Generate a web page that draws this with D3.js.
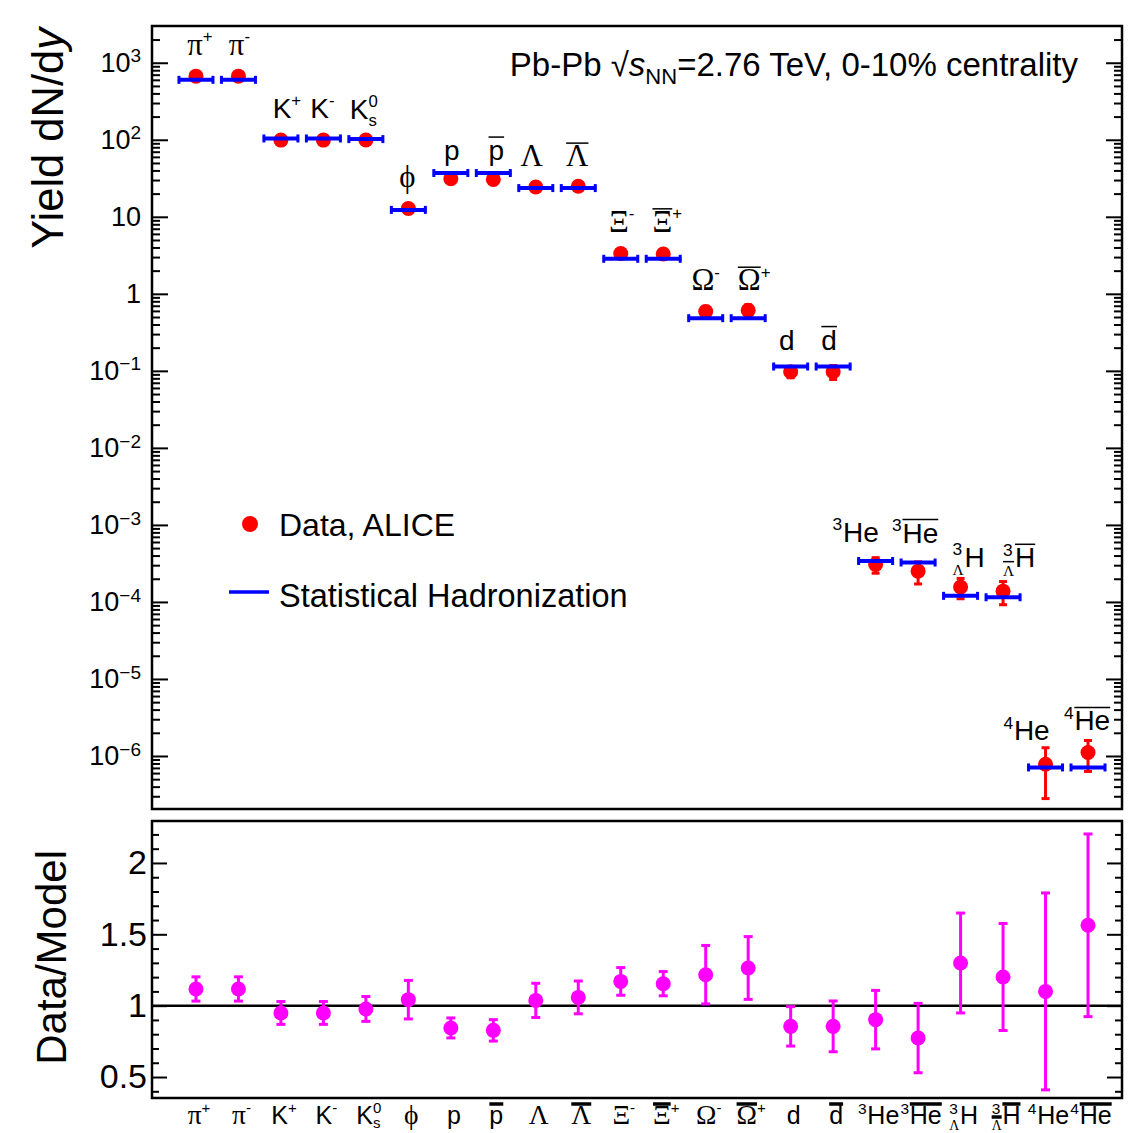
<!DOCTYPE html>
<html>
<head>
<meta charset="utf-8">
<script src="https://cdn.jsdelivr.net/npm/d3@7"></script>
<style>
  body { margin: 0; background: #fff; }
  text { font-family: "Liberation Sans", Arial, Helvetica, sans-serif; fill: #000; }
</style>
</head>
<body>
<div id="chart"></div>
<script>
// ALICE yields in central Pb-Pb at 2.76 TeV vs. statistical hadronization model
// top: dN/dy (log), bottom: data / model ratio

const particles = ["pi+", "pi-", "K+", "K-", "K0s", "phi", "p", "pbar", "Lambda", "Lambdabar",
                   "Xi-", "Xibar+", "Omega-", "Omegabar+", "d", "dbar", "3He", "3Hebar",
                   "3LH", "3LHbar", "4He", "4Hebar"];

const dataYield = [670, 670, 99, 99, 99.5, 12.8, 31.2, 30.6, 24.4, 24.9,
                   3.34, 3.29, 0.588, 0.61, 0.0973, 0.0973, 3.06e-4, 2.51e-4,
                   1.56e-4, 1.38e-4, 7.8e-7, 1.11e-6];
const dataErr = [50, 50, 6, 6, 6, 1.6, 2.6, 2.6, 2.7, 2.6,
                 0.27, 0.24, 0.1, 0.11, 0.016, 0.02, 0.7e-4, 0.8e-4,
                 0.46e-4, 0.46e-4, 5.0e-7, 4.8e-7];
const modelYield = [600, 600, 104, 104, 102, 12.3, 37, 37, 23.6, 23.6,
                    2.85, 2.85, 0.483, 0.483, 0.1138, 0.1138, 3.40e-4, 3.25e-4,
                    1.2e-4, 1.15e-4, 7.1e-7, 7.1e-7];

const ratio = [1.117, 1.117, 0.949, 0.949, 0.977, 1.042, 0.844, 0.827, 1.037, 1.058,
               1.17, 1.154, 1.217, 1.264, 0.855, 0.855, 0.902, 0.773, 1.299, 1.201, 1.10, 1.563];
const ratioErr = [0.085, 0.085, 0.08, 0.08, 0.087, 0.135, 0.07, 0.075, 0.12, 0.115,
                  0.097, 0.085, 0.205, 0.22, 0.138, 0.178, 0.205, 0.243, 0.35, 0.375, 0.69, 0.64];

// label pieces: pre = left superscript, preSub = left subscript, t = symbol, bar = antiparticle
const labels = [
  { t: "π", sup: "+" }, { t: "π", sup: "-" },
  { t: "K", sup: "+" }, { t: "K", sup: "-" }, { t: "K", sup: "0", sub: "s" },
  { t: "\u03D5" }, { t: "p" }, { t: "p", bar: true },
  { t: "Λ" }, { t: "Λ", bar: true },
  { t: "Ξ", sup: "-" }, { t: "Ξ", sup: "+", bar: true },
  { t: "Ω", sup: "-" }, { t: "Ω", sup: "+", bar: true },
  { t: "d" }, { t: "d", bar: true },
  { pre: "3", t: "He" }, { pre: "3", t: "He", bar: true },
  { pre: "3", preSub: "Λ", t: "H" }, { pre: "3", preSub: "Λ", t: "H", bar: true },
  { pre: "4", t: "He" }, { pre: "4", t: "He", bar: true }
];

// pixel nudges of the in-plot labels, relative to the model line
const labelShift = [[4, -25], [1, -25], [6, -20], [-1, -20], [-2, -20], [-1, -23], [1, -13], [3, -13],
                    [-4, -22], [-1, -22], [1, -27], [4, -27], [0, -28], [6, -28], [-4, -17], [-4, -17],
                    [-20, -19], [-3, -20], [8, -29], [16, -30], [-19, -27], [-1, -37]];

const yTicksTop = [1e-6, 1e-5, 1e-4, 1e-3, 1e-2, 1e-1, 1, 10, 100, 1000];
const yTicksBot = [0.5, 1, 1.5, 2];

const width = 1132, height = 1133;
const left = 152, right = 1122;
const top1 = 26, bot1 = 809, top2 = 821, bot2 = 1098;
const sans = "'Liberation Sans', Arial, sans-serif";
const serif = "'Liberation Serif', 'Times New Roman', serif";

const svg = d3.select("#chart").append("svg")
    .attr("width", width).attr("height", height)
    .attr("viewBox", [0, 0, width, height]);

const x = d3.scaleLinear().domain([-1.035, 21.8]).range([left, right]);
const y = d3.scaleLog().domain([2.05e-7, 3000]).range([bot1, top1]);
const yr = d3.scaleLinear().domain([0.353, 2.294]).range([bot2, top2]);

const idx = d3.range(particles.length);

// ---------- axes top panel ----------
const minorTop = [];
for (let e = -7; e <= 3; e++) {
  for (let m = 2; m <= 9; m++) {
    const v = m * Math.pow(10, e);
    if (v > y.domain()[0] && v < y.domain()[1]) minorTop.push(v);
  }
}

function styleAxis(g) {
  g.select(".domain").remove();
  g.selectAll(".tick line").attr("stroke", "#000").attr("stroke-width", 2);
}

const yAxisG = svg.append("g")
    .attr("transform", `translate(${left},0)`)
    .call(d3.axisLeft(y).tickValues(yTicksTop).tickSize(-16).tickPadding(11))
    .style("font-size", "27px")
    .call(styleAxis);

yAxisG.selectAll(".tick text").each(function(d) {
  const e = Math.round(Math.log10(d));
  const t = d3.select(this).text(null).style("font-family", sans);
  if (e === 0) t.text("1");
  else if (e === 1) t.text("10");
  else {
    t.append("tspan").text("10");
    t.append("tspan").attr("dy", "-0.5em").style("font-size", "19px")
      .text(e < 0 ? "\u2212" + (-e) : String(e));
  }
});

svg.append("g").attr("transform", `translate(${left},0)`)
    .call(d3.axisLeft(y).tickValues(minorTop).tickSize(-8).tickFormat(""))
    .call(styleAxis);
svg.append("g").attr("transform", `translate(${right},0)`)
    .call(d3.axisRight(y).tickValues(yTicksTop).tickSize(-16).tickFormat(""))
    .call(styleAxis);
svg.append("g").attr("transform", `translate(${right},0)`)
    .call(d3.axisRight(y).tickValues(minorTop).tickSize(-8).tickFormat(""))
    .call(styleAxis);

// ---------- axes bottom panel ----------
const minorBot = d3.range(4, 23).map(v => v / 10).filter(v => !yTicksBot.includes(v));

svg.append("g")
    .attr("transform", `translate(${left},0)`)
    .call(d3.axisLeft(yr).tickValues(yTicksBot).tickSize(-15).tickPadding(5)
      .tickFormat(d => String(d)))
    .style("font-size", "34px")
    .call(styleAxis)
    .selectAll("text").style("font-family", sans);
svg.append("g").attr("transform", `translate(${left},0)`)
    .call(d3.axisLeft(yr).tickValues(minorBot).tickSize(-7).tickFormat(""))
    .call(styleAxis);
svg.append("g").attr("transform", `translate(${right},0)`)
    .call(d3.axisRight(yr).tickValues(yTicksBot).tickSize(-15).tickFormat(""))
    .call(styleAxis);
svg.append("g").attr("transform", `translate(${right},0)`)
    .call(d3.axisRight(yr).tickValues(minorBot).tickSize(-7).tickFormat(""))
    .call(styleAxis);

// frames
svg.append("rect").attr("x", left).attr("y", top1).attr("width", right - left).attr("height", bot1 - top1)
    .attr("fill", "none").attr("stroke", "#000").attr("stroke-width", 2.5);
svg.append("rect").attr("x", left).attr("y", top2).attr("width", right - left).attr("height", bot2 - top2)
    .attr("fill", "none").attr("stroke", "#000").attr("stroke-width", 2.5);

// unity line
svg.append("line")
    .attr("x1", left).attr("x2", right)
    .attr("y1", yr(1)).attr("y2", yr(1))
    .attr("stroke", "#000").attr("stroke-width", 2.5);

// ---------- top panel marks ----------
const red = "#ff0000", blue = "#0000ff", magenta = "#ff00ff";

const dataG = svg.append("g");
dataG.selectAll("line.err")
  .data(idx).join("line")
    .attr("x1", i => x(i)).attr("x2", i => x(i))
    .attr("y1", i => y(dataYield[i] + dataErr[i]))
    .attr("y2", i => y(Math.max(dataYield[i] - dataErr[i], 2.1e-7)))
    .attr("stroke", red).attr("stroke-width", 3);
[1, -1].forEach(s => {
  dataG.append("g").selectAll("line")
    .data(idx).join("line")
      .attr("x1", i => x(i) - 4).attr("x2", i => x(i) + 4)
      .attr("y1", i => y(dataYield[i] + s * dataErr[i])).attr("y2", i => y(dataYield[i] + s * dataErr[i]))
      .attr("stroke", red).attr("stroke-width", 3);
});
dataG.selectAll("circle")
  .data(idx).join("circle")
    .attr("cx", i => x(i))
    .attr("cy", i => y(dataYield[i]))
    .attr("r", 7.5)
    .attr("fill", red);

const modelG = svg.append("g").attr("stroke", blue);
modelG.selectAll("line.model")
  .data(idx).join("line")
    .attr("x1", i => x(i) - 18).attr("x2", i => x(i) + 18)
    .attr("y1", i => y(modelYield[i])).attr("y2", i => y(modelYield[i]))
    .attr("stroke-width", 4);
[-1, 1].forEach(s => {
  modelG.append("g").selectAll("line")
    .data(idx).join("line")
      .attr("x1", i => x(i) + s * 17).attr("x2", i => x(i) + s * 17)
      .attr("y1", i => y(modelYield[i]) - 4).attr("y2", i => y(modelYield[i]) + 4)
      .attr("stroke-width", 3);
});

// ---------- bottom panel marks ----------
const ratioG = svg.append("g").attr("stroke", magenta);
ratioG.selectAll("line.err")
  .data(idx).join("line")
    .attr("x1", i => x(i)).attr("x2", i => x(i))
    .attr("y1", i => yr(ratio[i] + ratioErr[i]))
    .attr("y2", i => yr(ratio[i] - ratioErr[i]))
    .attr("stroke-width", 3);
[1, -1].forEach(s => {
  ratioG.append("g").selectAll("line")
    .data(idx).join("line")
      .attr("x1", i => x(i) - 4.5).attr("x2", i => x(i) + 4.5)
      .attr("y1", i => yr(ratio[i] + s * ratioErr[i])).attr("y2", i => yr(ratio[i] + s * ratioErr[i]))
      .attr("stroke-width", 3);
});
svg.append("g").selectAll("circle")
  .data(idx).join("circle")
    .attr("cx", i => x(i))
    .attr("cy", i => yr(ratio[i]))
    .attr("r", 7.5)
    .attr("fill", magenta);

// ---------- particle labels ----------
function drawLabel(g, spec, cx, by, fs, barW, subDrop, barRise) {
  const grp = g.append("g").attr("transform", `translate(${cx},${by})`);
  let pos = 0;
  const add = (str, size, dy, greek) => {
    const t = grp.append("text").attr("x", pos).attr("y", dy)
      .style("font-size", size + "px")
      .style("font-family", greek ? serif : sans)
      .text(str);
    return t.node().getComputedTextLength();
  };
  const isGreek = s => /[πϕΛΞΩ]/.test(s);
  const bars = [];
  if (spec.pre) {
    const w1 = add(spec.pre, fs * 0.62, -fs * 0.42, false);
    let w2 = 0;
    if (spec.preSub) {
      w2 = add(spec.preSub, fs * 0.55, fs * subDrop, true);
      if (spec.bar) bars.push([pos, pos + w2, fs * subDrop - fs * 0.5]);
    }
    pos += Math.max(w1, w2) + fs * 0.03;
  }
  const greek = isGreek(spec.t);
  const wb = add(spec.t, greek ? fs * 1.1 : fs, 0, greek);
  if (spec.bar) bars.push([pos, pos + wb, -fs * barRise]);
  pos += wb;
  let ws = 0, wsub = 0;
  if (spec.sup) ws = add(spec.sup, fs * 0.6, -fs * 0.45, false);
  if (spec.sub) wsub = add(spec.sub, fs * 0.6, fs * subDrop * 0.8, false);
  pos += Math.max(ws, wsub);
  const half = pos / 2;
  grp.selectAll("text").attr("x", function() { return +d3.select(this).attr("x") - half; });
  bars.forEach(b => {
    grp.append("line")
      .attr("x1", b[0] - half).attr("x2", b[1] - half)
      .attr("y1", b[2]).attr("y2", b[2])
      .attr("stroke", "#000").attr("stroke-width", barW);
  });
}

const topLabelG = svg.append("g");
idx.forEach(i => {
  drawLabel(topLabelG, labels[i], x(i) + labelShift[i][0], y(modelYield[i]) + labelShift[i][1],
            28, 1.5, 0.3, 0.82);
});

const botLabelG = svg.append("g");
idx.forEach(i => {
  drawLabel(botLabelG, labels[i], x(i) + 3, 1124, 25, 3.5, 0.22, 0.8);
});

// ---------- title ----------
const title = svg.append("text")
    .attr("x", 1078).attr("y", 76)
    .attr("text-anchor", "end")
    .style("font-size", "33px");
title.append("tspan").text("Pb-Pb ");
title.append("tspan").text("\u221A");
title.append("tspan").style("font-style", "italic").text("s");
title.append("tspan").attr("dy", 8).style("font-size", "22px").text("NN");
title.append("tspan").attr("dy", -8).text("=2.76 TeV, 0-10% centrality");

// ---------- axis titles ----------
const yTitle = svg.append("text")
    .attr("transform", `translate(63,28) rotate(-90)`)
    .attr("text-anchor", "end")
    .style("font-size", "43.5px");
yTitle.append("tspan").text("Yield dN/d");
yTitle.append("tspan").style("font-style", "italic").text("y");

svg.append("text")
    .attr("transform", `translate(66,850) rotate(-90)`)
    .attr("text-anchor", "end")
    .style("font-size", "42px")
    .text("Data/Model");

// ---------- legend ----------
svg.append("circle").attr("cx", 250).attr("cy", 524).attr("r", 8).attr("fill", red);
svg.append("text").attr("x", 279).attr("y", 536).style("font-size", "32px").text("Data, ALICE");
svg.append("line").attr("x1", 229).attr("x2", 269).attr("y1", 592).attr("y2", 592)
    .attr("stroke", blue).attr("stroke-width", 3.5);
svg.append("text").attr("x", 279).attr("y", 607).style("font-size", "32.5px").text("Statistical Hadronization");
</script>
</body>
</html>
